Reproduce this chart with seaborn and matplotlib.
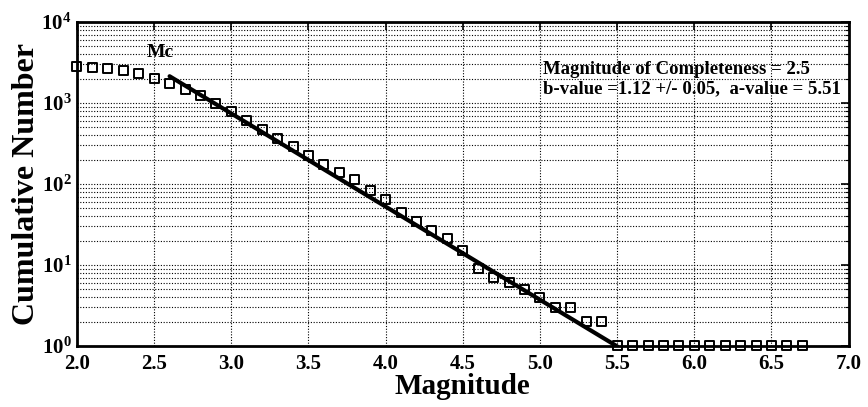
import numpy as np
import pandas as pd
import matplotlib
matplotlib.use('Agg')
import matplotlib.pyplot as plt
import seaborn as sns
from matplotlib.ticker import LogLocator, MultipleLocator, FormatStrFormatter

# magnitude bins and cumulative counts
magnitude = [2.0, 2.1, 2.2, 2.3, 2.4, 2.5, 2.6, 2.7, 2.8, 2.9,
             3.0, 3.1, 3.2, 3.3, 3.4, 3.5, 3.6, 3.7, 3.8, 3.9,
             4.0, 4.1, 4.2, 4.3, 4.4, 4.5, 4.6, 4.7, 4.8, 4.9,
             5.0, 5.1, 5.2, 5.3, 5.4, 5.5, 5.6, 5.7, 5.8, 5.9,
             6.0, 6.1, 6.2, 6.3, 6.4, 6.5, 6.6, 6.7]
cum_number = [2800, 2750, 2650, 2520, 2280, 2000, 1730, 1480, 1250, 990,
              790, 610, 470, 360, 290, 225, 175, 140, 113, 83,
              65, 44, 34, 27, 21, 15, 9, 7, 6, 5,
              4, 3, 3, 2, 2, 1, 1, 1, 1, 1,
              1, 1, 1, 1, 1, 1, 1, 1]

# fitted Gutenberg-Richter line as drawn
fit_mag = [2.6, 5.5]
fit_a = 6.32
fit_b = 1.15

df = pd.DataFrame({'mag': magnitude, 'n': cum_number})
fit = pd.DataFrame({'mag': fit_mag})
fit['n'] = 10 ** (fit_a - fit_b * fit['mag'])

sns.set_style('white')
plt.rcParams['font.family'] = ['Liberation Serif', 'DejaVu Serif']
plt.rcParams['font.weight'] = 'bold'
plt.rcParams['text.color'] = 'black'
plt.rcParams['axes.labelcolor'] = 'black'
plt.rcParams['xtick.color'] = 'black'
plt.rcParams['ytick.color'] = 'black'

fig = plt.figure(figsize=(8.68, 4.07), dpi=100)
ax = fig.add_axes([0.0887, 0.150, 0.889, 0.796])

sns.lineplot(data=fit, x='mag', y='n', color='black', lw=3, ax=ax)
sns.scatterplot(data=df, x='mag', y='n', marker='s', s=42, facecolor='none',
                edgecolor='black', linewidth=1.4, ax=ax, clip_on=False, zorder=5)

ax.set_yscale('log')
ax.xaxis.set_major_locator(MultipleLocator(0.5))
ax.xaxis.set_major_formatter(FormatStrFormatter('%.1f'))
ax.yaxis.set_major_locator(LogLocator(base=10, numticks=10))
ax.yaxis.set_minor_locator(LogLocator(base=10, subs=np.arange(2, 10), numticks=10))
ax.set_xlim(2.0, 7.0)
ax.set_ylim(1, 1e4)

ax.grid(True, which='major', axis='both', color='black', ls=(0, (1, 1.5)), lw=0.8)
ax.grid(True, which='minor', axis='y', color='black', ls=(0, (1, 1.5)), lw=0.8)

ax.tick_params(which='both', direction='in', top=True, right=True, labelsize=15)
ax.tick_params(which='major', length=6, width=1.2)
ax.tick_params(which='minor', length=3, width=0.8)
ax.tick_params(axis='x', pad=6)
ax.tick_params(axis='y', pad=4)
for lab in ax.get_xticklabels() + ax.get_yticklabels():
    lab.set_fontweight('bold')
for sp in ax.spines.values():
    sp.set_linewidth(2)
    sp.set_color('black')

ax.set_xlabel('Magnitude', fontsize=21, fontweight='bold', labelpad=-1)
ax.set_ylabel('Cumulative Number', fontsize=23, fontweight='bold', labelpad=0)

ax.text(2.45, 3300, 'Mc', fontsize=14, fontweight='bold', ha='left', va='bottom')
ax.text(0.604, 0.852, 'Magnitude of Completeness = 2.5', transform=ax.transAxes,
        fontsize=13.5, fontweight='bold', va='center', ha='left')
ax.text(0.604, 0.793, 'b-value =1.12 +/- 0.05,  a-value = 5.51', transform=ax.transAxes,
        fontsize=13.5, fontweight='bold', va='center', ha='left')

fig.savefig('out.png', dpi=100)
